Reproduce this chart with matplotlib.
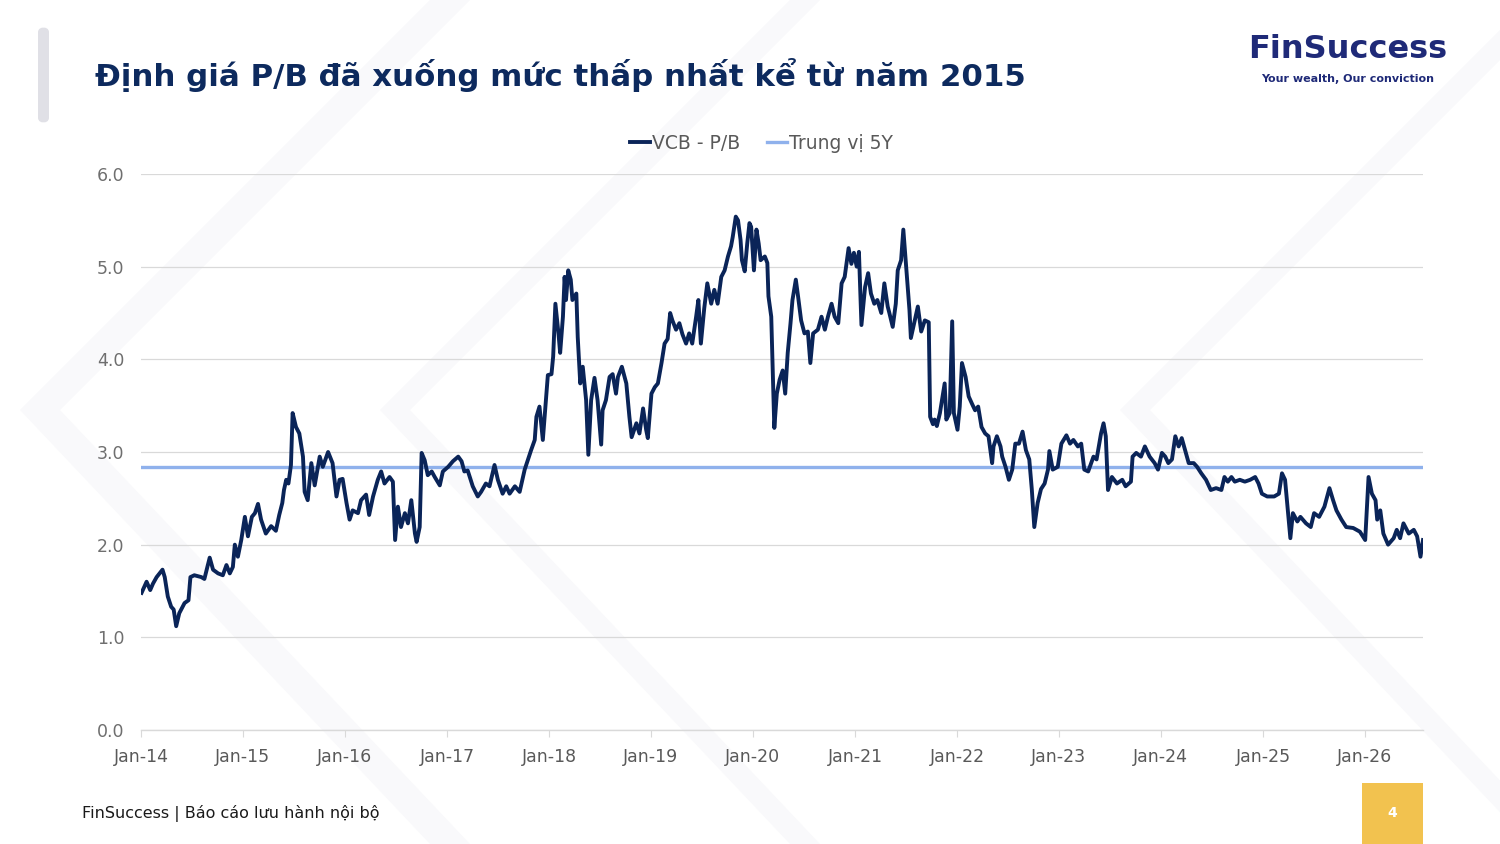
import matplotlib
matplotlib.use('Agg')
import matplotlib.pyplot as plt
import matplotlib.dates as mdates
from matplotlib.patches import Polygon, Rectangle, FancyBboxPatch
import pandas as pd

# VCB P/B, doc tu hinh
dates = [
    '2014-01-03', '2014-01-21', '2014-02-03', '2014-02-13', '2014-02-26', '2014-03-19', '2014-03-27',
    '2014-04-07', '2014-04-19', '2014-04-28', '2014-05-07', '2014-05-18', '2014-06-06', '2014-06-20',
    '2014-06-27', '2014-07-11', '2014-08-05', '2014-08-16', '2014-09-04', '2014-09-16', '2014-10-04',
    '2014-10-21', '2014-11-03', '2014-11-15', '2014-11-26', '2014-12-03', '2014-12-14', '2014-12-26',
    '2015-01-08', '2015-01-19', '2015-02-02', '2015-02-13', '2015-02-24', '2015-03-07', '2015-03-24',
    '2015-04-12', '2015-04-29', '2015-05-11', '2015-05-22', '2015-05-28', '2015-06-05', '2015-06-13',
    '2015-06-22', '2015-06-28', '2015-07-10', '2015-07-22', '2015-08-04', '2015-08-10', '2015-08-21',
    '2015-09-03', '2015-09-15', '2015-10-03', '2015-10-14', '2015-11-02', '2015-11-18', '2015-12-02',
    '2015-12-13', '2015-12-24', '2016-01-07', '2016-01-18', '2016-01-29', '2016-02-17', '2016-02-28',
    '2016-03-17', '2016-03-28', '2016-04-11', '2016-04-28', '2016-05-10', '2016-05-22', '2016-06-09',
    '2016-06-21', '2016-06-29', '2016-07-09', '2016-07-20', '2016-08-03', '2016-08-14', '2016-08-26',
    '2016-09-08', '2016-09-14', '2016-09-25', '2016-10-02', '2016-10-13', '2016-10-24', '2016-11-07',
    '2016-11-18', '2016-12-06', '2016-12-17', '2017-01-05', '2017-01-22', '2017-02-10', '2017-02-22',
    '2017-03-04', '2017-03-16', '2017-04-03', '2017-04-21', '2017-05-03', '2017-05-20', '2017-06-02',
    '2017-06-20', '2017-07-02', '2017-07-19', '2017-08-01', '2017-08-13', '2017-09-01', '2017-09-18',
    '2017-10-06', '2017-10-17', '2017-10-29', '2017-11-11', '2017-11-17', '2017-11-28', '2017-12-10',
    '2017-12-22', '2017-12-28', '2018-01-10', '2018-01-16', '2018-01-24', '2018-02-04', '2018-02-10',
    '2018-02-20', '2018-02-26', '2018-03-03', '2018-03-11', '2018-03-20', '2018-03-26', '2018-04-09',
    '2018-04-14', '2018-04-23', '2018-05-02', '2018-05-14', '2018-05-22', '2018-06-01', '2018-06-13',
    '2018-06-24', '2018-07-07', '2018-07-12', '2018-07-24', '2018-08-06', '2018-08-17', '2018-08-29',
    '2018-09-05', '2018-09-19', '2018-10-05', '2018-10-16', '2018-10-24', '2018-11-10', '2018-11-21',
    '2018-12-04', '2018-12-15', '2018-12-21', '2019-01-03', '2019-01-15', '2019-01-26', '2019-02-08',
    '2019-02-19', '2019-03-02', '2019-03-11', '2019-03-19', '2019-04-01', '2019-04-13', '2019-04-24',
    '2019-05-07', '2019-05-18', '2019-05-29', '2019-06-12', '2019-06-20', '2019-06-29', '2019-07-11',
    '2019-07-22', '2019-08-05', '2019-08-16', '2019-08-28', '2019-09-10', '2019-09-22', '2019-10-04',
    '2019-10-15', '2019-10-21', '2019-11-01', '2019-11-09', '2019-11-18', '2019-11-23', '2019-12-03',
    '2019-12-12', '2019-12-20', '2019-12-26', '2020-01-05', '2020-01-14', '2020-01-22', '2020-01-29',
    '2020-02-13', '2020-02-22', '2020-02-26', '2020-03-07', '2020-03-12', '2020-03-18', '2020-03-27',
    '2020-04-06', '2020-04-17', '2020-04-26', '2020-05-05', '2020-05-15', '2020-05-22', '2020-06-03',
    '2020-06-11', '2020-06-22', '2020-07-04', '2020-07-16', '2020-07-25', '2020-08-04', '2020-08-21',
    '2020-09-03', '2020-09-15', '2020-09-26', '2020-10-09', '2020-10-20', '2020-11-02', '2020-11-14',
    '2020-11-25', '2020-12-09', '2020-12-19', '2020-12-28', '2021-01-07', '2021-01-15', '2021-01-24',
    '2021-02-06', '2021-02-17', '2021-02-27', '2021-03-11', '2021-03-22', '2021-04-05', '2021-04-16',
    '2021-04-28', '2021-05-04', '2021-05-16', '2021-05-27', '2021-06-03', '2021-06-15', '2021-06-23',
    '2021-07-03', '2021-07-15', '2021-07-20', '2021-08-03', '2021-08-14', '2021-08-26', '2021-09-08',
    '2021-09-22', '2021-09-27', '2021-10-07', '2021-10-13', '2021-10-21', '2021-11-01', '2021-11-18',
    '2021-11-24', '2021-12-06', '2021-12-15', '2021-12-21', '2022-01-03', '2022-01-11', '2022-01-19',
    '2022-02-01', '2022-02-12', '2022-02-24', '2022-03-07', '2022-03-18', '2022-03-30', '2022-04-12',
    '2022-04-24', '2022-05-07', '2022-05-12', '2022-05-24', '2022-06-06', '2022-06-12', '2022-06-24',
    '2022-07-06', '2022-07-18', '2022-07-29', '2022-08-11', '2022-08-24', '2022-09-05', '2022-09-17',
    '2022-09-26', '2022-10-05', '2022-10-17', '2022-10-29', '2022-11-11', '2022-11-23', '2022-11-28',
    '2022-12-10', '2022-12-28', '2023-01-10', '2023-01-28', '2023-02-10', '2023-02-22', '2023-03-10',
    '2023-03-22', '2023-04-02', '2023-04-16', '2023-05-05', '2023-05-16', '2023-06-01', '2023-06-10',
    '2023-06-18', '2023-06-26', '2023-07-10', '2023-07-28', '2023-08-16', '2023-08-28', '2023-09-16',
    '2023-09-22', '2023-10-05', '2023-10-22', '2023-11-05', '2023-11-22', '2023-12-10', '2023-12-22',
    '2024-01-05', '2024-01-17', '2024-01-28', '2024-02-10', '2024-02-22', '2024-03-05', '2024-03-16',
    '2024-03-28', '2024-04-10', '2024-04-28', '2024-05-10', '2024-05-25', '2024-06-11', '2024-06-28',
    '2024-07-17', '2024-08-05', '2024-08-16', '2024-08-28', '2024-09-10', '2024-09-22', '2024-10-10',
    '2024-10-28', '2024-11-16', '2024-12-04', '2024-12-16', '2024-12-28', '2025-01-16', '2025-02-10',
    '2025-02-27', '2025-03-10', '2025-03-21', '2025-04-01', '2025-04-09', '2025-04-18', '2025-05-04',
    '2025-05-15', '2025-06-04', '2025-06-21', '2025-07-03', '2025-07-21', '2025-08-09', '2025-08-27',
    '2025-09-09', '2025-09-21', '2025-10-09', '2025-10-26', '2025-11-20', '2025-12-14', '2026-01-02',
    '2026-01-14', '2026-01-26', '2026-02-08', '2026-02-14', '2026-02-25', '2026-03-08', '2026-03-25',
    '2026-04-14', '2026-04-25', '2026-05-07', '2026-05-19', '2026-06-07', '2026-06-25', '2026-07-07',
    '2026-07-19', '2026-07-28',
]
pb = [
    1.48, 1.60, 1.51, 1.58, 1.65, 1.73, 1.65,
    1.44, 1.33, 1.30, 1.12, 1.26, 1.37, 1.40,
    1.65, 1.67, 1.65, 1.63, 1.86, 1.73, 1.69,
    1.67, 1.78, 1.69, 1.76, 2.00, 1.87, 2.05,
    2.30, 2.09, 2.30, 2.34, 2.44, 2.27, 2.12,
    2.20, 2.15, 2.32, 2.45, 2.59, 2.70, 2.66,
    2.86, 3.42, 3.27, 3.20, 2.95, 2.57, 2.48,
    2.88, 2.64, 2.95, 2.84, 3.00, 2.88, 2.52,
    2.70, 2.71, 2.45, 2.27, 2.37, 2.34, 2.48,
    2.54, 2.32, 2.52, 2.70, 2.79, 2.66, 2.73,
    2.68, 2.05, 2.41, 2.19, 2.34, 2.23, 2.48,
    2.12, 2.03, 2.19, 2.99, 2.91, 2.75, 2.79,
    2.73, 2.64, 2.79, 2.84, 2.90, 2.95, 2.90,
    2.79, 2.80, 2.63, 2.52, 2.57, 2.66, 2.63,
    2.86, 2.70, 2.55, 2.63, 2.55, 2.63, 2.57,
    2.81, 2.91, 3.02, 3.13, 3.38, 3.49, 3.13,
    3.60, 3.83, 3.84, 4.03, 4.60, 4.28, 4.07,
    4.46, 4.89, 4.64, 4.96, 4.86, 4.64, 4.71,
    4.24, 3.74, 3.92, 3.56, 2.97, 3.56, 3.80,
    3.56, 3.08, 3.45, 3.56, 3.81, 3.84, 3.63,
    3.81, 3.92, 3.74, 3.38, 3.16, 3.31, 3.20,
    3.47, 3.24, 3.15, 3.63, 3.70, 3.74, 3.96,
    4.17, 4.22, 4.50, 4.42, 4.32, 4.39, 4.27,
    4.17, 4.28, 4.17, 4.46, 4.64, 4.17, 4.55,
    4.82, 4.60, 4.75, 4.60, 4.89, 4.96, 5.11,
    5.22, 5.32, 5.54, 5.50, 5.29, 5.07, 4.95,
    5.25, 5.47, 5.43, 4.96, 5.40, 5.25, 5.07,
    5.11, 5.04, 4.68, 4.46, 3.92, 3.26, 3.63,
    3.78, 3.88, 3.63, 4.07, 4.39, 4.64, 4.86,
    4.68, 4.42, 4.28, 4.30, 3.96, 4.28, 4.32,
    4.46, 4.32, 4.46, 4.60, 4.46, 4.39, 4.82,
    4.89, 5.20, 5.03, 5.15, 5.00, 5.16, 4.37,
    4.78, 4.93, 4.71, 4.60, 4.64, 4.50, 4.82,
    4.57, 4.50, 4.35, 4.60, 4.96, 5.07, 5.40,
    5.00, 4.53, 4.23, 4.42, 4.57, 4.30, 4.42,
    4.40, 3.38, 3.30, 3.35, 3.28, 3.42, 3.74,
    3.35, 3.42, 4.41, 3.42, 3.24, 3.49, 3.96,
    3.81, 3.60, 3.52, 3.45, 3.49, 3.27, 3.20,
    3.17, 2.88, 3.06, 3.17, 3.06, 2.95, 2.84,
    2.70, 2.81, 3.09, 3.09, 3.22, 3.02, 2.92,
    2.60, 2.19, 2.45, 2.60, 2.66, 2.81, 3.01,
    2.81, 2.84, 3.09, 3.18, 3.09, 3.13, 3.06,
    3.09, 2.81, 2.79, 2.95, 2.92, 3.20, 3.31,
    3.17, 2.59, 2.73, 2.66, 2.70, 2.63, 2.68,
    2.95, 2.99, 2.95, 3.06, 2.95, 2.88, 2.81,
    2.99, 2.95, 2.88, 2.92, 3.17, 3.06, 3.15,
    3.02, 2.88, 2.88, 2.84, 2.77, 2.70, 2.59,
    2.61, 2.59, 2.73, 2.68, 2.73, 2.68, 2.70,
    2.68, 2.70, 2.73, 2.66, 2.55, 2.52, 2.52,
    2.55, 2.77, 2.70, 2.34, 2.07, 2.34, 2.25,
    2.30, 2.23, 2.19, 2.34, 2.30, 2.41, 2.61,
    2.48, 2.37, 2.27, 2.19, 2.18, 2.14, 2.05,
    2.73, 2.55, 2.48, 2.27, 2.37, 2.12, 2.00,
    2.07, 2.16, 2.07, 2.23, 2.12, 2.16, 2.09,
    1.87, 2.05,
]
median_5y = 2.84
year_ticks = list(range(2014, 2027))

navy = '#0a2458'
light_blue = '#8fb1ec'
grey_txt = '#595959'

plt.rcParams['font.family'] = ['DejaVu Sans']

dt = pd.to_datetime(dates)

fig = plt.figure(figsize=(15, 8.44), dpi=100)
fig.patch.set_facecolor('white')

W, H = 1500, 844
def px(pts):
    return [(x / W, 1 - y / H) for x, y in pts]

# nen mo, chevron rat nhat, nam duoi truc
bg = '#f9f9fb'
shapes = [
    [(20, 410), (430, 0), (470, 0), (60, 410), (470, 844), (430, 844)],
    [(380, 410), (790, 0), (820, 0), (410, 410), (820, 844), (790, 844)],
    [(1120, 410), (1530, 0), (1560, 0), (1150, 410), (1560, 844), (1530, 844)],
]
for s in shapes:
    fig.patches.append(Polygon(px(s), closed=True, transform=fig.transFigure,
                               facecolor=bg, edgecolor='none', zorder=-5))

ax = fig.add_axes([141 / W, 114 / H, (1423 - 141) / W, (730 - 174) / H])
ax.set_zorder(5)
ax.patch.set_alpha(0)

ax.plot(dt, pb, color=navy, lw=2.8, label='VCB - P/B', zorder=3, solid_joinstyle='round')
ax.plot([dt[0], dt[-1]], [median_5y, median_5y], color=light_blue, lw=2.4,
        label='Trung vị 5Y', zorder=2)

ax.set_ylim(0, 6)
ax.set_xlim(pd.Timestamp('2014-01-01'), dt[-1])
ax.set_yticks([0, 1, 2, 3, 4, 5, 6])
ax.set_yticklabels(['%.1f' % v for v in [0, 1, 2, 3, 4, 5, 6]])
ax.set_xticks([pd.Timestamp('%d-01-01' % y) for y in year_ticks])
ax.xaxis.set_major_formatter(mdates.DateFormatter('%b-%y'))

ax.grid(axis='y', color='#d9d9d9', lw=0.9)
ax.set_axisbelow(True)
for side in ['top', 'right', 'left']:
    ax.spines[side].set_visible(False)
ax.spines['bottom'].set_color('#d9d9d9')
ax.spines['bottom'].set_linewidth(1.0)
ax.tick_params(axis='y', length=0, pad=12, labelsize=12.5, labelcolor='#6f6f6f')
ax.tick_params(axis='x', length=5, color='#d9d9d9', pad=8, labelsize=12.5, labelcolor=grey_txt)

leg = ax.legend(loc='center', bbox_to_anchor=(0.484, 1.055), ncol=2, frameon=False,
                fontsize=13.5, handlelength=1.1, handletextpad=0.1, columnspacing=1.4)
for t in leg.get_texts():
    t.set_color(grey_txt)

# tieu de
fig.text(95 / W, 1 - 75 / H, 'Định giá P/B đã xuống mức thấp nhất kể từ năm 2015',
         fontsize=22.2, fontweight='bold', color='#0d2a5e', va='center', ha='left')

# thanh xam ben trai
fig.patches.append(FancyBboxPatch((38 / W, 1 - 123 / H), 11 / W, 96 / H,
                                  boxstyle='round,pad=0,rounding_size=0.006',
                                  transform=fig.transFigure, facecolor='#e0e0e6',
                                  edgecolor='none'))

# logo
fig.text(1348 / W, 1 - 49 / H, 'FinSuccess', fontsize=23, fontweight='bold',
         color='#1f2a78', ha='center', va='center')
fig.text(1348 / W, 1 - 79 / H, 'Your wealth, Our conviction', fontsize=8,
         fontweight='bold', color='#1f2a78', ha='center', va='center')

# chan trang
fig.text(82 / W, 1 - 814 / H, 'FinSuccess | Báo cáo lưu hành nội bộ', fontsize=11.5,
         color='#1a1a1a', ha='left', va='center')
fig.patches.append(Rectangle((1362 / W, 0), 61 / W, 61 / H, transform=fig.transFigure,
                             facecolor='#f2c24f', edgecolor='none'))
fig.text(1392.5 / W, 1 - 813 / H, '4', fontsize=10, fontweight='bold', color='white',
         ha='center', va='center')

fig.savefig('out.png', dpi=100)
